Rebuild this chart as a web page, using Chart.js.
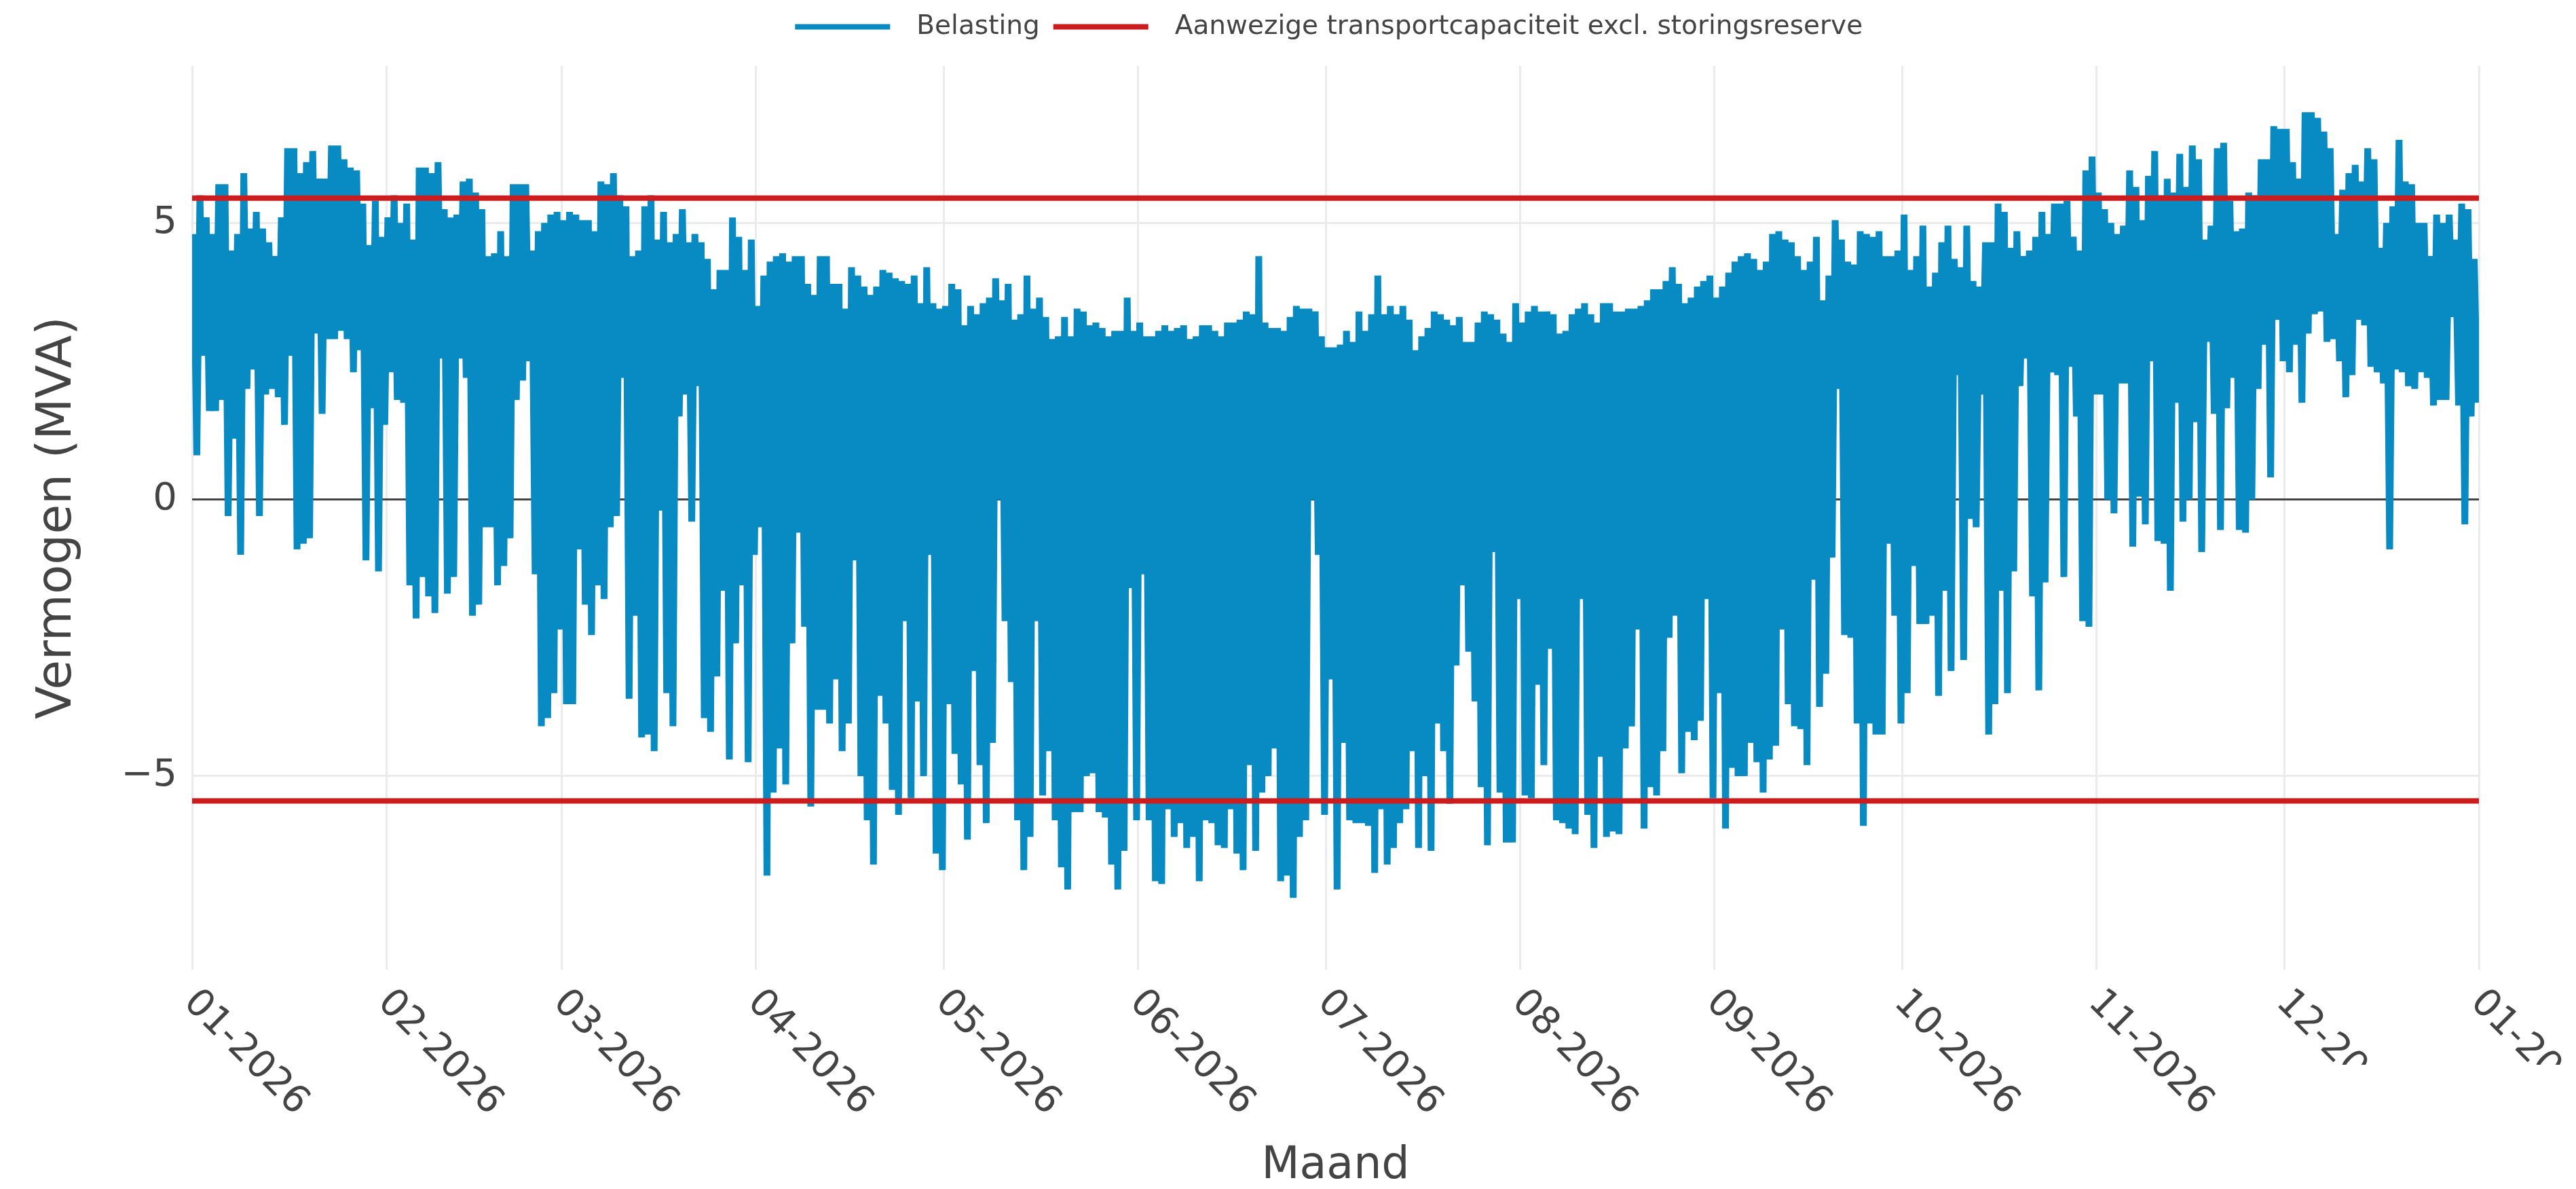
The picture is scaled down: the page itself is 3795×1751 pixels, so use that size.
<!DOCTYPE html>
<html>
<head>
<meta charset="utf-8">
<script src="https://cdn.jsdelivr.net/npm/chart.js@4.4.1/dist/chart.umd.min.js"></script>
<style>
  html, body { margin: 0; padding: 0; background: #fff; }
  #wrap { width: 3795px; height: 1751px; }
</style>
</head>
<body>
<div id="wrap"><canvas id="chart"></canvas></div>
<script>
// month starts (day of year) and their labels
const monthTicks = [0, 31, 59, 90, 120, 151, 181, 212, 243, 273, 304, 334, 365];
const monthLabels = ['01-2026', '02-2026', '03-2026', '04-2026', '05-2026', '06-2026', '07-2026',
  '08-2026', '09-2026', '10-2026', '11-2026', '12-2026', '01-2027'];
const yTicks = [-5, 0, 5];

// transport capacity excl. reserve (MVA), drawn at +/- this value
const capacity = 5.45;

// daily highest load (MVA), one value per day of 2026
const dayMax = [
  4.8, 5.5, 5.1, 4.8, 5.7, 5.7, 4.5, 4.8, 5.9, 4.9, 5.2, 4.9, 4.65, 4.4, 5.1, 6.35, 6.35, 5.9, 6.1, 6.3,
  5.8, 5.8, 6.4, 6.4, 6.15, 6.0, 5.95, 5.35, 4.6, 5.4, 4.75, 5.1, 5.5, 5.0, 5.35, 4.7, 6.0, 6.0, 5.9, 6.1,
  5.25, 5.1, 5.15, 5.75, 5.8, 5.55, 5.25, 4.4, 4.45, 4.85, 4.4, 5.7, 5.7, 5.7, 4.5, 4.85, 5.0, 5.15, 5.2, 5.05,
  5.2, 5.15, 5.05, 5.05, 4.85, 5.75, 5.7, 5.9, 5.5, 5.3, 4.4, 4.5, 5.3, 5.5, 4.7, 5.2, 4.65, 4.8, 5.25, 4.65,
  4.8, 4.65, 4.35, 3.8, 4.15, 4.15, 5.1, 4.75, 4.15, 4.7, 3.5, 4.05, 4.3, 4.4, 4.45, 4.3, 4.4, 4.4, 3.9, 3.7,
  4.4, 4.4, 3.9, 3.9, 3.45, 4.2, 4.05, 3.85, 3.7, 3.85, 4.15, 4.1, 4.0, 3.95, 3.9, 4.05, 3.55, 4.2, 3.55, 3.45, 3.5,
  3.9, 3.8, 3.15, 3.5, 3.35, 3.55, 3.65, 4.0, 3.6, 3.9, 3.25, 3.35, 4.05, 3.45, 3.65, 3.3, 2.9, 2.95, 3.3, 2.95,
  3.45, 3.4, 3.15, 3.2, 3.1, 2.95, 3.05, 3.05, 3.65, 3.05, 3.2, 2.95, 2.95, 3.05, 3.15, 3.05, 3.1, 3.15, 2.9, 2.95,
  3.15, 3.15, 3.05, 2.95, 3.2, 3.2, 3.25, 3.4, 3.35, 4.4, 3.2, 3.1, 3.1, 3.05, 3.3, 3.5, 3.45, 3.45, 3.4, 2.95, 2.75,
  2.75, 2.8, 3.05, 2.85, 3.4, 3.05, 3.35, 4.05, 3.35, 3.5, 3.35, 3.5, 3.25, 2.7, 2.95, 3.1, 3.4, 3.35, 3.25, 3.15,
  3.3, 2.85, 2.85, 3.2, 3.4, 3.35, 3.25, 3.0, 2.85, 3.55, 3.2, 3.4, 3.5, 3.4, 3.4, 3.35, 3.0, 3.05, 3.35, 3.45,
  3.55, 3.35, 3.2, 3.55, 3.55, 3.4, 3.4, 3.45, 3.45, 3.5, 3.6, 3.8, 3.8, 3.95, 4.2, 3.9, 3.55, 3.65, 3.85, 3.95, 4.05,
  3.65, 3.85, 4.1, 4.3, 4.4, 4.45, 4.35, 4.15, 4.3, 4.8, 4.85, 4.7, 4.65, 4.4, 4.15, 4.3, 4.75, 3.6, 4.05, 5.05,
  4.7, 4.3, 4.25, 4.85, 4.8, 4.75, 4.85, 4.4, 4.4, 4.5, 5.15, 4.15, 4.4, 4.95, 3.85, 4.1, 4.65, 4.95, 4.35, 4.2,
  4.95, 3.95, 3.85, 4.65, 4.65, 5.35, 5.2, 4.55, 4.85, 4.4, 4.5, 4.75, 5.2, 4.8, 5.35, 5.35, 5.4, 4.75, 4.5, 5.95, 6.2,
  5.55, 5.25, 5.0, 4.8, 4.95, 5.95, 5.65, 5.05, 5.85, 6.3, 5.5, 5.8, 5.55, 6.25, 5.65, 6.4, 6.15, 4.7, 4.95, 6.35,
  6.45, 5.4, 4.85, 4.9, 5.55, 5.5, 6.15, 6.15, 6.75, 6.7, 6.7, 6.1, 5.8, 7.0, 7.0, 6.9, 6.65, 6.35, 4.8, 5.6,
  5.9, 6.05, 5.75, 6.35, 6.15, 4.55, 5.0, 5.3, 6.5, 5.75, 5.7, 5.0, 5.0, 4.4, 5.15, 5.0, 5.15, 4.7, 5.35, 5.25, 4.35
];

// daily lowest load (MVA), negative = solar feed-in
const dayMin = [
  0.8, 2.6, 1.6, 1.6, 1.8, -0.3, 1.1, -1.0, 2.0, 2.35, -0.3, 1.9, 2.0, 1.85, 1.35, 2.6, -0.9, -0.8, -0.7, 3.0,
  1.55, 2.9, 2.9, 3.05, 2.9, 2.3, 2.7, -1.1, 1.65, -1.3, 1.35, 2.3, 1.8, 1.75, -1.55, -2.15, -1.4, -1.75, -2.05, 2.55,
  -1.7, -1.4, 2.55, 2.2, -2.1, -1.9, -0.5, -0.5, -1.55, -1.2, -0.7, 1.8, 2.15, 2.5, -1.35, -4.1, -3.95, -3.5, -2.35, -3.7,
  -3.7, -0.9, -1.9, -2.45, -1.55, -1.8, -0.5, -0.3, 2.2, -3.6, -2.1, -4.3, -4.25, -4.55, -0.2, -3.5, -4.1, 1.5, 1.9, -0.4,
  2.05, -3.95, -4.2, -3.2, -1.65, -4.7, -2.6, -1.55, -4.75, -1.0, -0.5, -6.8, -5.3, -4.5, -5.15, -2.6, -0.6, -2.3, -5.55, -3.8,
  -3.8, -4.05, -3.25, -4.55, -4.05, -1.1, -5.0, -5.8, -6.6, -3.55, -4.05, -5.25, -5.7, -2.2, -5.4, -3.65, -5.0, -1.0, -6.4, -6.7, -3.7,
  -4.6, -5.15, -6.15, -3.1, -4.8, -5.85, -4.4, 0.0, -2.2, -3.3, -5.8, -6.7, -6.1, -2.2, -5.35, -4.55, -5.8, -6.65, -7.05, -5.65,
  -5.65, -5.0, -4.95, -5.65, -5.75, -6.6, -7.05, -6.35, -1.6, -5.8, -1.35, -5.8, -6.9, -6.95, -5.6, -6.1, -5.85, -6.3, -6.1, -6.9,
  -5.8, -5.85, -6.25, -6.3, -5.6, -6.4, -6.7, -4.8, -6.35, -5.3, -5.0, -4.5, -6.9, -6.8, -7.2, -6.1, -5.8, 0.0, -1.0, -5.7, -3.25,
  -7.05, -4.4, -5.8, -5.85, -5.85, -5.9, -6.75, -5.6, -6.6, -6.3, -5.85, -5.6, -4.55, -6.3, -5.0, -6.35, -4.05, -4.55, -5.5, -3.0,
  -1.55, -2.75, -3.65, -5.2, -6.25, -0.95, -5.3, -6.2, -6.2, -1.8, -5.35, -5.4, -3.35, -4.8, -2.7, -5.8, -5.85, -5.95, -6.05, -1.8,
  -5.7, -6.3, -4.65, -6.1, -6.0, -6.05, -4.5, -4.1, -2.35, -5.95, -5.2, -5.35, -4.55, -2.5, -2.1, -4.95, -4.2, -4.35, -4.0, -1.8, -5.4,
  -3.5, -5.95, -4.85, -5.0, -5.0, -4.4, -4.75, -5.3, -4.7, -4.45, -2.35, -3.7, -4.1, -4.15, -4.8, -1.45, -3.75, -3.15, -1.05, 2.0,
  -2.45, -2.5, -4.05, -5.9, -4.05, -4.25, -4.25, -0.8, -2.1, -4.05, -3.5, -1.2, -2.25, -2.25, -2.1, -3.55, -1.65, -3.1, 2.25, -2.9,
  -0.35, -0.5, 1.9, -4.25, -3.7, -1.65, -3.5, -1.3, 2.05, 2.55, -1.75, -3.45, -1.5, 2.3, 2.25, -1.4, 2.4, 1.5, -2.2, -2.3, 1.9,
  1.9, 0.0, -0.25, 2.1, 2.1, -0.85, 0.05, -0.45, 2.5, -0.75, -0.8, -1.65, 1.75, -0.4, 0.0, 1.4, -0.95, 2.85, 1.55, -0.55,
  1.65, 2.2, -0.55, -0.6, 0.0, 2.0, 2.8, 0.4, 3.25, 2.5, 2.3, 2.8, 1.75, 3.0, 3.35, 3.4, 2.85, 2.9, 2.5, 1.85,
  2.25, 3.25, 3.15, 2.4, 2.3, 2.1, -0.9, 2.35, 2.3, 2.05, 2.0, 2.3, 2.2, 1.7, 1.8, 1.8, 3.3, 1.7, -0.45, 1.5, 1.75
];

const BLUE = 'rgb(8, 138, 194)';
const RED = 'rgb(204, 28, 30)';
const FONT = '"DejaVu Sans", Verdana, sans-serif';

// evening peak and midday low of each day, in time order
const loadPoints = [];
dayMax.forEach((hi, d) => {
  loadPoints.push({ x: d + 0.25, y: hi });
  loadPoints.push({ x: d + 0.75, y: dayMin[d] });
});

const capPoints = [
  { x: monthTicks[0], y: capacity }, { x: monthTicks[12], y: capacity },
  { x: monthTicks[12], y: null },
  { x: monthTicks[0], y: -capacity }, { x: monthTicks[12], y: -capacity }
];

// keep the plot top where the reference has it
const legendHeight = {
  id: 'legendHeight',
  beforeLayout(chart) {
    const lg = chart.legend;
    if (lg && !lg._fixed) {
      const fit = lg.fit;
      lg.fit = function () { fit.call(this); this.height = 97; };
      lg._fixed = true;
    }
  }
};

// month labels, slanted 45 degrees downwards like the original
const monthLabelsPlugin = {
  id: 'monthLabels',
  afterDraw(chart) {
    const { ctx } = chart;
    const x = chart.scales.x;
    ctx.save();
    ctx.beginPath();
    ctx.rect(0, 0, chart.width, 1568);
    ctx.rect(0, 1568, 3330, chart.height - 1568);
    ctx.clip();
    ctx.font = '56px ' + FONT;
    ctx.fillStyle = '#444';
    ctx.textAlign = 'left';
    ctx.textBaseline = 'middle';
    monthTicks.forEach((v, i) => {
      ctx.save();
      ctx.translate(x.getPixelForValue(v) - 4, x.top + 40);
      ctx.rotate(Math.PI / 4);
      ctx.fillText(monthLabels[i], 0, 0);
      ctx.restore();
    });
    ctx.restore();
  }
};

const defaultLabels = Chart.defaults.plugins.legend.labels.generateLabels;

new Chart(document.getElementById('chart'), {
  type: 'line',
  data: {
    datasets: [
      {
        label: 'Belasting',
        data: loadPoints,
        borderColor: BLUE,
        backgroundColor: BLUE,
        borderWidth: 10,
        pointRadius: 0,
        tension: 0,
        borderJoinStyle: 'bevel'
      },
      {
        label: 'Aanwezige transportcapaciteit excl. storingsreserve',
        data: capPoints,
        borderColor: RED,
        backgroundColor: RED,
        borderWidth: 8,
        pointRadius: 0,
        spanGaps: false,
        order: -1
      }
    ]
  },
  options: {
    responsive: true,
    maintainAspectRatio: false,
    devicePixelRatio: 1,
    animation: false,
    events: [],
    layout: { padding: { left: 50, right: 143, top: 0, bottom: 0 } },
    plugins: {
      tooltip: { enabled: false },
      legend: {
        position: 'top',
        fullSize: false,
        labels: {
          usePointStyle: true,
          pointStyle: 'line',
          pointStyleWidth: 140,
          padding: 20,
          color: '#444',
          font: { family: FONT, size: 39 },
          sort: (a, b) => a.datasetIndex - b.datasetIndex,
          generateLabels: (chart) => defaultLabels(chart).map((item, i) => {
            item.lineWidth = 8;
            item.text = '\u2002' + item.text + (i === 0 ? '\u2002' : '');
            return item;
          })
        }
      }
    },
    scales: {
      x: {
        type: 'linear',
        min: monthTicks[0],
        max: monthTicks[12],
        afterBuildTicks: (s) => { s.ticks = monthTicks.map(v => ({ value: v })); },
        afterFit: (s) => { s.height = 323; },
        ticks: { display: false },
        grid: { color: '#ebebeb', lineWidth: 3, drawTicks: false },
        border: { display: false },
        title: {
          display: true,
          text: 'Maand',
          color: '#444',
          font: { family: FONT, size: 65, lineHeight: 1 },
          padding: 0
        }
      },
      y: {
        min: -8.5,
        max: 7.84,
        afterBuildTicks: (s) => { s.ticks = yTicks.map(v => ({ value: v })); },
        afterFit: (s) => { s.width = 233; },
        ticks: {
          padding: 22,
          color: '#444',
          font: { family: FONT, size: 56 },
          callback: (v) => (v < 0 ? '\u2212' + Math.abs(v) : String(v))
        },
        grid: {
          color: (c) => (c.tick && c.tick.value === 0 ? '#444' : '#ebebeb'),
          lineWidth: 3,
          drawTicks: false
        },
        border: { display: false },
        title: {
          display: true,
          text: 'Vermogen (MVA)',
          color: '#444',
          font: { family: FONT, size: 71, lineHeight: 1 },
          padding: 0
        }
      }
    }
  },
  plugins: [legendHeight, monthLabelsPlugin]
});
</script>
</body>
</html>
